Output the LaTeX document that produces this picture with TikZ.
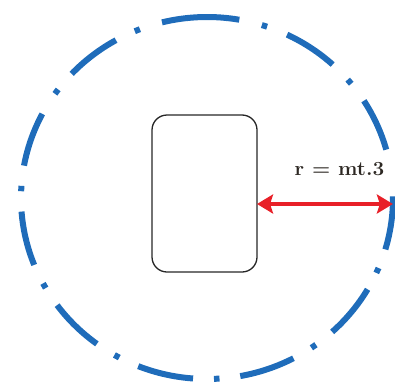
\documentclass[tikz,border=0pt]{standalone}
\usepackage{tikz}
\usetikzlibrary{arrows.meta,shapes.geometric}
\definecolor{ringblue}{RGB}{31,108,186}
\definecolor{arrowred}{RGB}{232,32,40}
\definecolor{textgray}{RGB}{45,40,35}
\tikzset{
  ringstyle/.style={ellipse, minimum width=372pt, minimum height=362pt, inner sep=0pt},
  ringpiece/.style={draw=ringblue, line width=6pt, line cap=butt},
  boxstyle/.style={draw=black!85, line width=1.3pt, rounded corners=15pt,
    minimum width=105pt, minimum height=157pt, inner sep=0pt},
  dimarrow/.style={draw=arrowred, line width=4.3pt,
    {Stealth[length=16pt,width=19pt,inset=3pt]}-{Stealth[length=16pt,width=19pt,inset=3pt]}},
  labelstyle/.style={text=textgray, font=\fontsize{20}{22}\selectfont\bfseries, inner sep=0pt}
}
\begin{document}
\begin{tikzpicture}[x=1pt,y=1pt]
  \useasboundingbox (0,0) rectangle (395,384);
  \node[ringstyle] (ring) at (207,186) {};
  % dashes of the dash-dot ring: centre angle / half span
  \foreach \a/\h in {24/8.5, 56/8.5, 92/12, 128/8.7, 161/8.7, 193/8.7, 225/8.7, 257/8.7, 289/8.7, 321/8.7, 352/8.5}
    \draw[ringpiece] ([shift={(\a-\h:186 and 181)}]ring.center)
      arc[start angle=\a-\h, end angle=\a+\h, x radius=186, y radius=181];
  % dots of the ring
  \foreach \a in {40, 72, 112, 144, 177, 209, 241, 273, 305, 336.4}
    \draw[ringpiece] ([shift={(\a-0.85:186 and 181)}]ring.center)
      arc[start angle=\a-0.85, end angle=\a+0.85, x radius=186, y radius=181];
  \node[boxstyle] (rect) at (204.5,190.5) {};
  \coordinate (a1) at (257,180);
  \coordinate (a2) at (392.9,180);
  \draw[dimarrow] (a1) -- (a2);
  \node[labelstyle, xscale=1.04] (lbl) at (339.5,215) {r = mt.3};
\end{tikzpicture}
\end{document}
